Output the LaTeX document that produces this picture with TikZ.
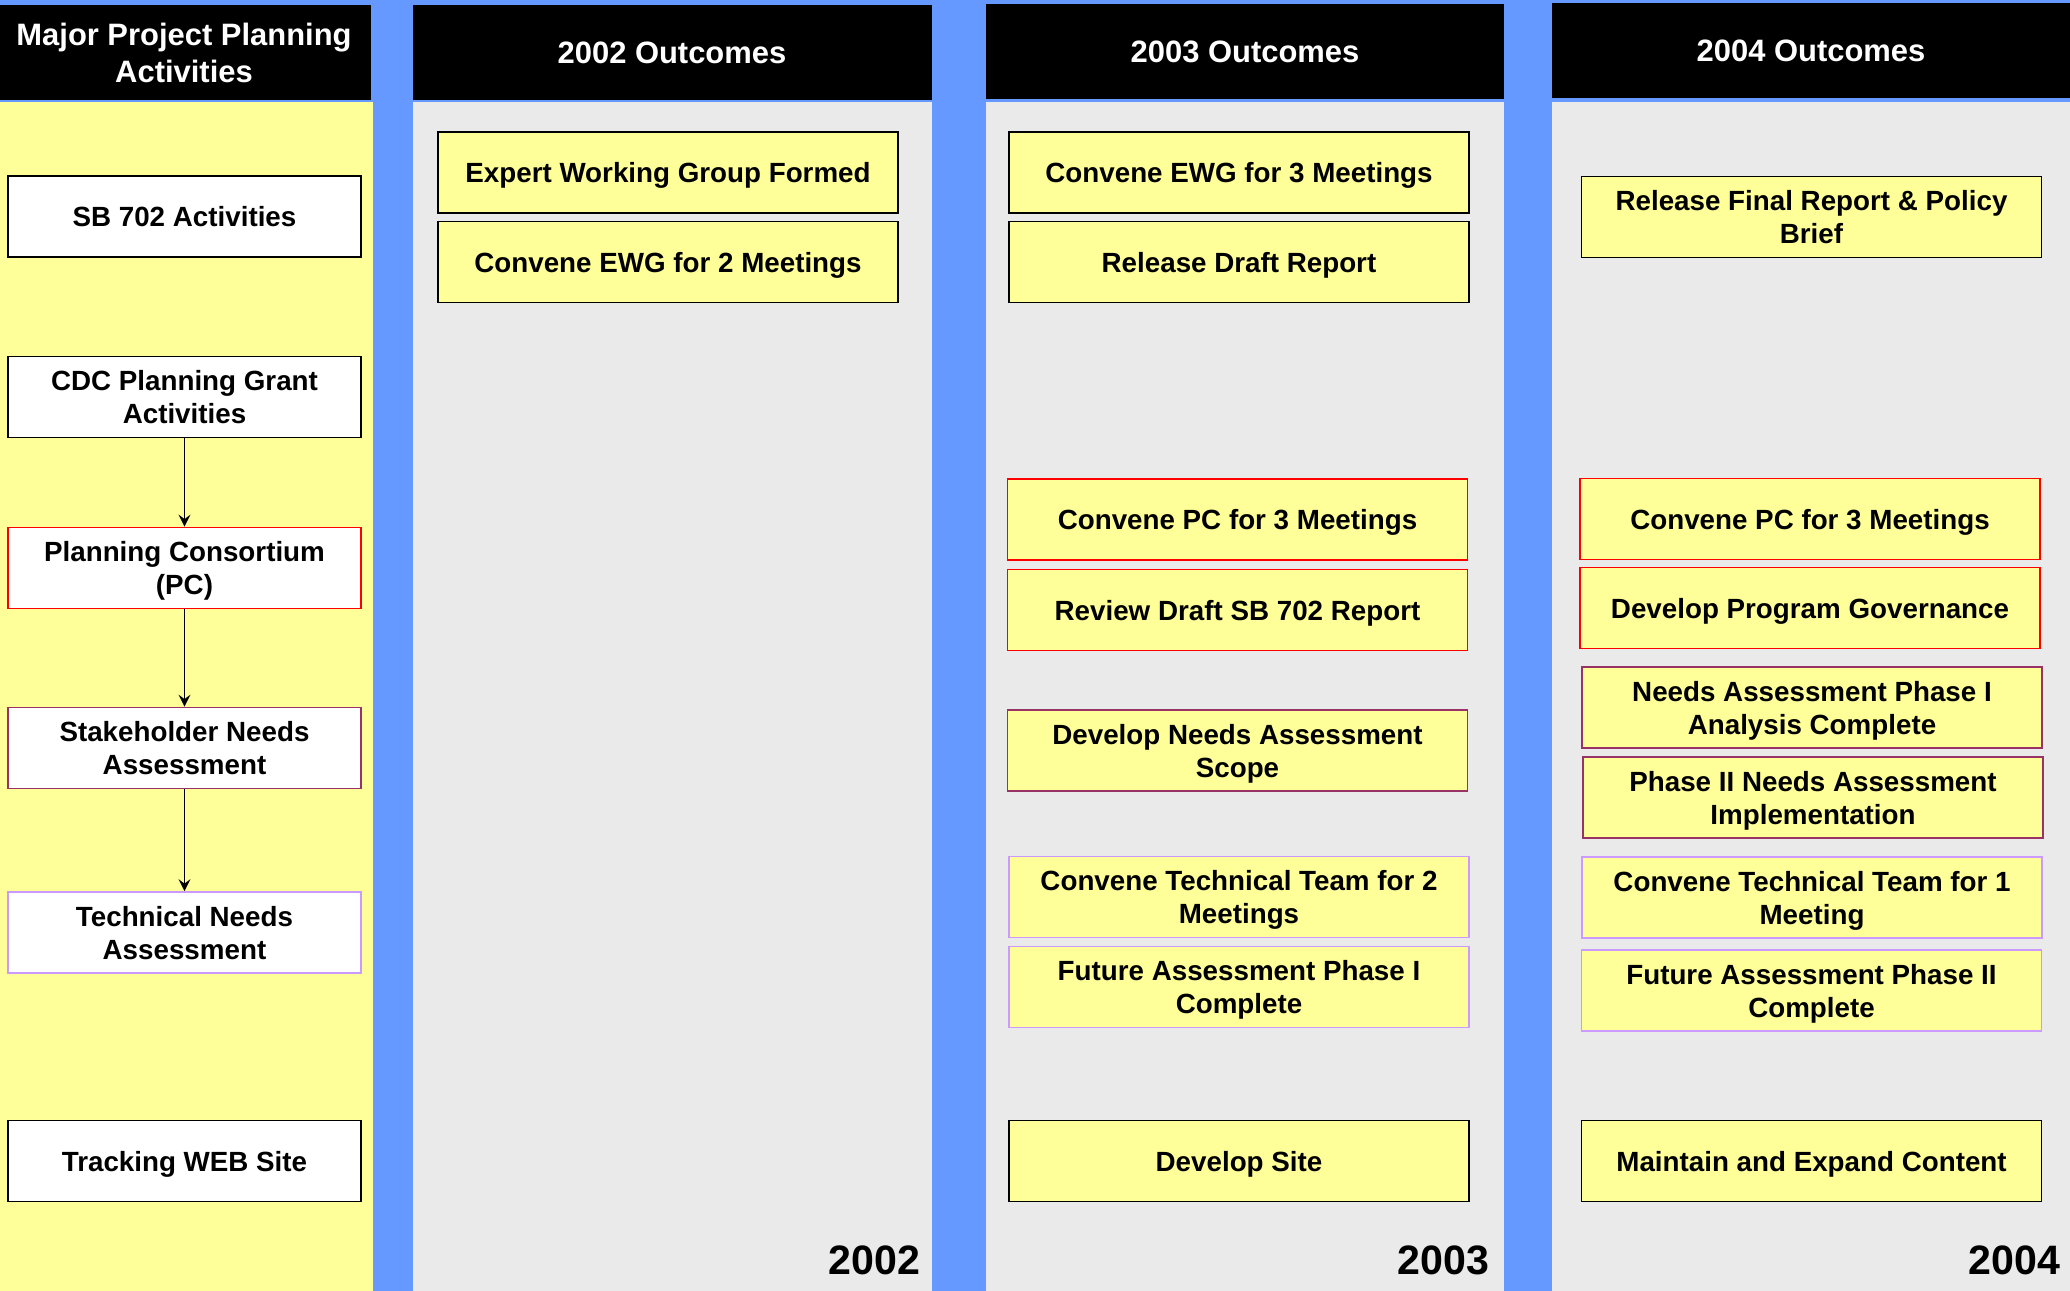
\documentclass[tikz,border=0pt]{standalone}
\usepackage{fontspec}
\setmainfont{Liberation Sans}
\usepackage{tikz}
\usetikzlibrary{positioning,arrows.meta}
\definecolor{bgblue}{HTML}{6699FF}
\definecolor{paleyel}{HTML}{FFFF99}
\definecolor{colgray}{HTML}{EAEAEA}
\definecolor{nared}{HTML}{993366}
\definecolor{tnviol}{HTML}{CC99FF}
\tikzset{
  act/.style={rectangle, fill=white, draw=black, minimum width=3.53cm, minimum height=0.81cm, align=center, inner sep=1pt, text depth=0pt, line width=0.5pt, font=\fontsize{7.9}{9.4}\selectfont\bfseries},
  outc/.style={act, fill=paleyel, minimum width=4.60cm},
  pcb/.style={draw=red},
  nab/.style={draw=nared},
  tnb/.style={draw=tnviol},
  hdr/.style={text=white, align=center, font=\fontsize{8.8}{10.5}\selectfont\bfseries},
  yr/.style={anchor=base east, inner sep=0pt, font=\fontsize{11.7}{14}\selectfont\bfseries},
  flow/.style={draw=black, line width=0.5pt, ->,>=stealth}
}
\begin{document}
\begin{tikzpicture}
  % columns
  \fill[bgblue] (0,0) rectangle (20.70,-12.91);
  \fill[paleyel] (0,-1.02) rectangle (3.73,-12.91);
  \fill[colgray] (4.13,-1.02) rectangle (9.32,-12.91);
  \fill[colgray] (9.86,-1.02) rectangle (15.04,-12.91);
  \fill[colgray] (15.52,-1.02) rectangle (20.70,-12.91);
  \fill[black] (0,-0.05) rectangle (3.71,-1.00);
  \fill[black] (4.13,-0.05) rectangle (9.32,-1.00);
  \fill[black] (9.86,-0.04) rectangle (15.04,-0.99);
  \fill[black] (15.52,-0.03) rectangle (20.70,-0.98);

  \node[hdr] (h0) at (1.84,-0.53) {Major Project Planning\\Activities};
  \node[hdr] (h1) at (6.72,-0.53) {2002 Outcomes};
  \node[hdr] (h2) at (12.45,-0.52) {2003 Outcomes};
  \node[hdr] (h3) at (18.11,-0.51) {2004 Outcomes};

  % activities
  \node[act] (sb) at (1.845,-2.165) {SB 702 Activities};
  \node[act] (cdc) at (1.845,-3.97) {CDC Planning Grant\\Activities};
  \node[act, pcb] (pc) at (1.845,-5.68) {Planning Consortium\\(PC)};
  \node[act, nab] (sna) at (1.845,-7.48) {Stakeholder Needs\\Assessment};
  \node[act, tnb] (tna) at (1.845,-9.325) {Technical Needs\\Assessment};
  \node[act] (web) at (1.845,-11.61) {Tracking WEB Site};
  \draw[flow] (cdc)--(pc); \draw[flow] (pc)--(sna);
  \draw[flow] (sna)--(tna);

  % 2002
  \node[outc] (a1) at (6.68,-1.725) {Expert Working Group Formed};
  \node[outc] (a2) at (6.68,-2.62) {Convene EWG for 2 Meetings};

  % 2003
  \node[outc] (b1) at (12.39,-1.725) {Convene EWG for 3 Meetings};
  \node[outc] (b2) at (12.39,-2.62) {Release Draft Report};
  \node[outc, pcb] (b3) at (12.375,-5.195) {Convene PC for 3 Meetings};
  \node[outc, pcb] (b4) at (12.375,-6.10) {Review Draft SB 702 Report};
  \node[outc, nab] (b5) at (12.375,-7.505) {Develop Needs Assessment\\Scope};
  \node[outc, tnb] (b6) at (12.39,-8.97) {Convene Technical Team for 2\\Meetings};
  \node[outc, tnb] (b7) at (12.39,-9.87) {Future Assessment Phase I\\Complete};
  \node[outc] (b8) at (12.39,-11.61) {Develop Site};

  % 2004
  \node[outc] (c1) at (18.115,-2.17) {Release Final Report \& Policy\\Brief};
  \node[outc, pcb] (c2) at (18.10,-5.19) {Convene PC for 3 Meetings};
  \node[outc, pcb] (c3) at (18.10,-6.08) {Develop Program Governance};
  \node[outc, nab] (c4) at (18.12,-7.075) {Needs Assessment Phase I\\Analysis Complete};
  \node[outc, nab] (c5) at (18.13,-7.975) {Phase II Needs Assessment\\Implementation};
  \node[outc, tnb] (c6) at (18.12,-8.975) {Convene Technical Team for 1\\Meeting};
  \node[outc, tnb] (c7) at (18.115,-9.905) {Future Assessment Phase II\\Complete};
  \node[outc] (c8) at (18.115,-11.61) {Maintain and Expand Content};

  \node[yr] (y2) at (9.21,-12.74) {2002};
  \node[yr] (y3) at (14.90,-12.74) {2003};
  \node[yr] (y4) at (20.61,-12.74) {2004};
\end{tikzpicture}
\end{document}
